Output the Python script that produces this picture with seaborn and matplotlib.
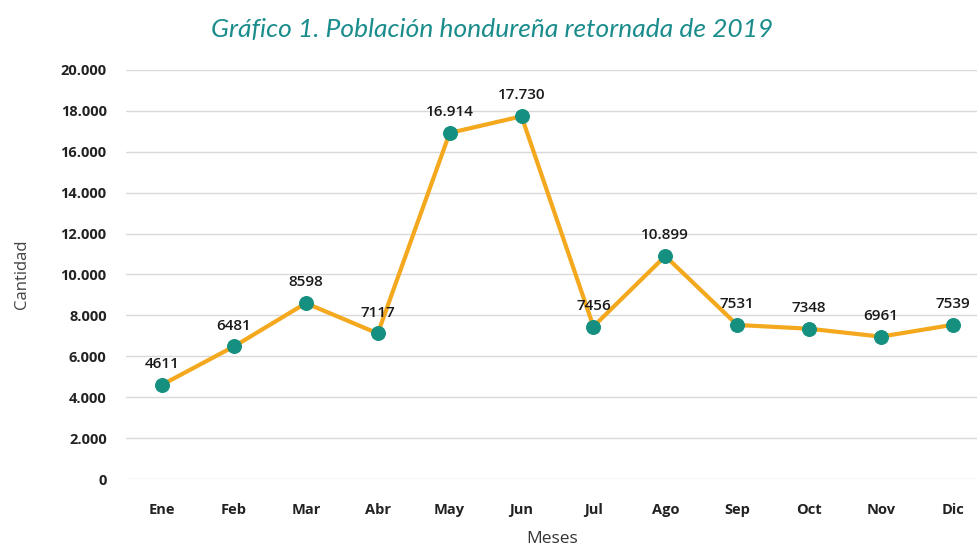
import pandas as pd
import matplotlib
matplotlib.use("Agg")
import matplotlib.pyplot as plt
import seaborn as sns

sns.set_style("white")
plt.rcParams['font.family'] = ['Open Sans', 'DejaVu Sans']

# datos del grafico
meses = ["Ene", "Feb", "Mar", "Abr", "May", "Jun", "Jul", "Ago", "Sep", "Oct", "Nov", "Dic"]
cantidad = [4611, 6481, 8598, 7117, 16914, 17730, 7456, 10899, 7531, 7348, 6961, 7539]
etiquetas = ["4611", "6481", "8598", "7117", "16.914", "17.730", "7456", "10.899", "7531", "7348", "6961", "7539"]
yticks = [0, 2000, 4000, 6000, 8000, 10000, 12000, 14000, 16000, 18000, 20000]
ytick_labels = ["0", "2.000", "4.000", "6.000", "8.000", "10.000", "12.000", "14.000", "16.000", "18.000", "20.000"]

data = pd.DataFrame({"Mes": meses, "Cantidad": cantidad})
data["pos"] = range(len(meses))

fig = plt.figure(figsize=(9.78, 5.5), dpi=100)
ax = fig.add_axes([0.129, 0.129, 0.871, 0.744])

sns.lineplot(x="pos", y="Cantidad", data=data, ax=ax, color="#f4a81d", linewidth=3,
             marker="o", markersize=10, markerfacecolor="#159080", markeredgecolor="#159080")

for i, (v, t) in enumerate(zip(cantidad, etiquetas)):
    ax.annotate(t, (i, v), xytext=(0, 10), textcoords="offset points", ha="center", va="bottom",
                fontsize=11, color="#1a1a1a", fontweight="semibold")

ax.set_xlim(-0.5, 11.35)
ax.set_ylim(0, 20000)
ax.set_yticks(yticks)
ax.set_yticklabels(ytick_labels, fontsize=10.5, fontweight="bold", color="#222222")
ax.set_xticks(range(len(meses)))
ax.set_xticklabels(meses, fontsize=10.5, fontweight="bold", color="#222222")
ax.tick_params(axis="y", length=0, pad=14)
ax.tick_params(axis="x", length=0, pad=17)
ax.yaxis.grid(True, color="#d9d9d9", linewidth=1)
ax.xaxis.grid(False)
for s in ax.spines.values():
    s.set_visible(False)

ax.set_xlabel("Meses", fontsize=12.5, color="#333333", labelpad=10)
ax.set_ylabel("Cantidad", fontsize=12, color="#444444", labelpad=22)
fig.text(0.503, 0.947, "Gráfico 1. Población hondureña retornada de 2019", ha="center", va="center",
         fontsize=19, style="italic", color="#1a8c8c", family=["Lato", "DejaVu Sans"])

plt.savefig("out.png", dpi=100)
